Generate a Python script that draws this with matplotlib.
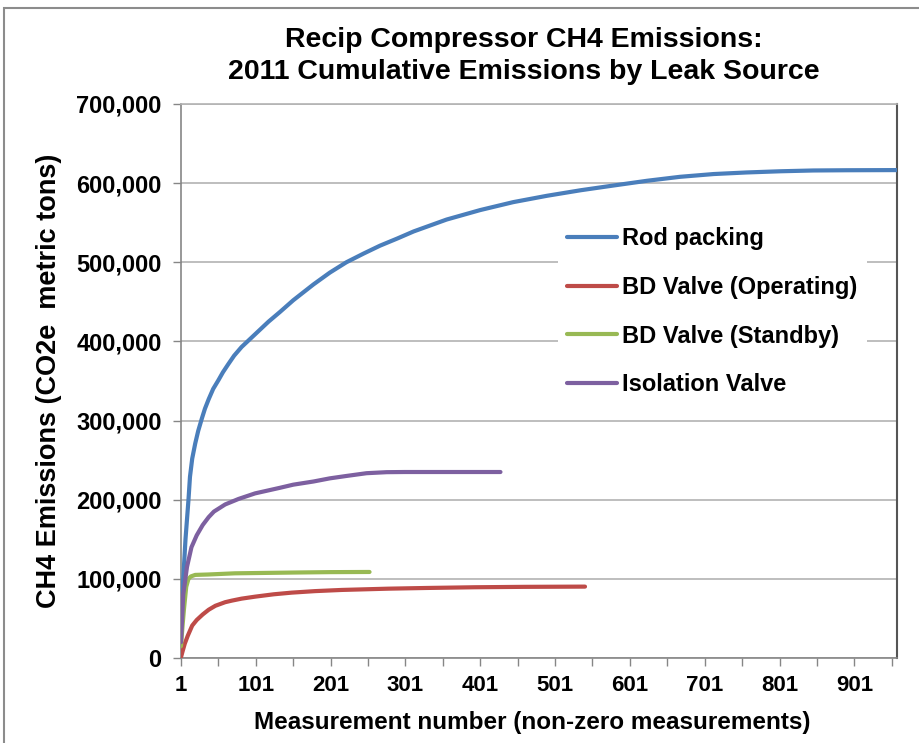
import matplotlib
matplotlib.use("Agg")
import matplotlib.pyplot as plt
from matplotlib.patches import Rectangle
from matplotlib.ticker import FuncFormatter, MultipleLocator

rod_n = [1, 4, 7, 11, 13, 16, 20, 24, 29, 33, 38, 44, 51, 57, 64, 72, 82, 91, 100,
         118, 133, 151, 178, 200, 222, 245, 267, 290, 312, 356, 401, 445, 490, 535,
         579, 624, 668, 713, 757, 802, 846, 891, 958]
rod_v = [40000, 100000, 150000, 200000, 229000, 252000, 271000, 287000, 303000,
         315000, 327000, 340000, 351000, 361000, 371000, 382000, 393000, 401000,
         409000, 425000, 437000, 452000, 472000, 487000, 500000, 511000, 521000,
         530000, 539000, 554000, 566000, 576000, 584000, 591000, 597000, 603000,
         608000, 611500, 613500, 615000, 616000, 616300, 616500]

bd_op_n = [1, 3, 6, 10, 16, 22, 30, 38, 47, 60, 69, 82, 100, 125, 149, 180, 216,
           278, 330, 394, 460, 541]
bd_op_v = [1000, 8000, 18000, 28000, 41000, 48000, 55000, 61000, 66000, 70500,
           72500, 75000, 77500, 80500, 82600, 84500, 86000, 87600, 88500, 89400,
           89900, 90200]

bd_sb_n = [1, 3, 5, 8, 11, 14, 20, 37, 73, 153, 200, 253]
bd_sb_v = [15000, 40000, 62000, 90000, 100000, 103000, 105000, 105500, 107000,
           108000, 108500, 108700]

iso_n = [1, 4, 9, 15, 22, 30, 38, 45, 60, 78, 100, 133, 151, 178, 200, 222, 249,
         276, 300, 428]
iso_v = [20000, 80000, 115000, 140000, 155000, 168000, 178000, 185000, 194000,
         201000, 208000, 215000, 219000, 223000, 227000, 230000, 233500, 234800,
         235000, 235000]

series = [
    ("Rod packing", rod_n, rod_v, "#4A7EBB"),
    ("BD Valve (Operating)", bd_op_n, bd_op_v, "#BE4B48"),
    ("BD Valve (Standby)", bd_sb_n, bd_sb_v, "#98B954"),
    ("Isolation Valve", iso_n, iso_v, "#7D60A0"),
]

plt.rcParams["font.family"] = ["Liberation Sans", "DejaVu Sans"]
plt.rcParams["font.weight"] = "bold"

fig = plt.figure(figsize=(9.19, 7.43), dpi=100)
ax = fig.add_axes([181 / 919, 85 / 743, 716 / 919, 554 / 743])

for label, n, v, color in series:
    ax.plot(n, v, color=color, lw=3, label=label, solid_capstyle="round",
            solid_joinstyle="round", zorder=3)

ax.set_xlim(1, 958)
ax.set_ylim(0, 700000)

# y axis
ax.yaxis.set_major_locator(MultipleLocator(100000))
ax.yaxis.set_major_formatter(FuncFormatter(lambda y, p: f"{y:,.0f}"))
ax.grid(axis="y", color="#b3b3b3", lw=1.2, zorder=0)

# x axis: ticks every 50, labels every 100 starting at 1
ax.set_xticks(range(1, 958, 50))
ax.xaxis.set_major_formatter(
    FuncFormatter(lambda x, p: str(int(round(x))) if int(round(x - 1)) % 100 == 0 else ""))

ax.tick_params(axis="both", direction="out", length=6, width=1, color="#868686")
ax.tick_params(axis="y", labelsize=17, pad=8)
ax.tick_params(axis="x", labelsize=16, pad=6)
for lab in ax.get_xticklabels() + ax.get_yticklabels():
    lab.set_fontweight("bold")

for s in ["left", "bottom"]:
    ax.spines[s].set_color("#868686")
    ax.spines[s].set_linewidth(1.2)
ax.spines["top"].set_color("#b3b3b3")
ax.spines["top"].set_linewidth(1.2)
ax.spines["right"].set_color("#555555")
ax.spines["right"].set_linewidth(1.5)

ax.set_xlabel("Measurement number (non-zero measurements)", fontsize=17.5,
              fontweight="bold", labelpad=10)
ax.xaxis.set_label_coords(0.49, -0.095)
ax.set_ylabel("CH4 Emissions (CO2e  metric tons)", fontsize=19.5,
              fontweight="bold", labelpad=10)

fig.text(524 / 919, 1 - 56 / 743,
         "Recip Compressor CH4 Emissions:\n2011 Cumulative Emissions by Leak Source",
         ha="center", va="center", fontsize=20.5, fontweight="bold", linespacing=1.27)

leg = ax.legend(loc="upper left", bbox_to_anchor=(0.510, 0.816), frameon=True,
                facecolor="white", edgecolor="none", framealpha=1, fancybox=False,
                prop={"size": 17, "weight": "bold"}, labelspacing=1.09,
                handlelength=2.08, handletextpad=0.25, borderpad=0.4)
leg.set_zorder(5)

# chart area border
fig.patches.append(Rectangle((3.5 / 919, -0.05), 1.2, 1.05 - 7.5 / 743, fill=False,
                             edgecolor="#8c8c8c", lw=1.5, transform=fig.transFigure,
                             figure=fig))

fig.savefig("out.png", dpi=100)
